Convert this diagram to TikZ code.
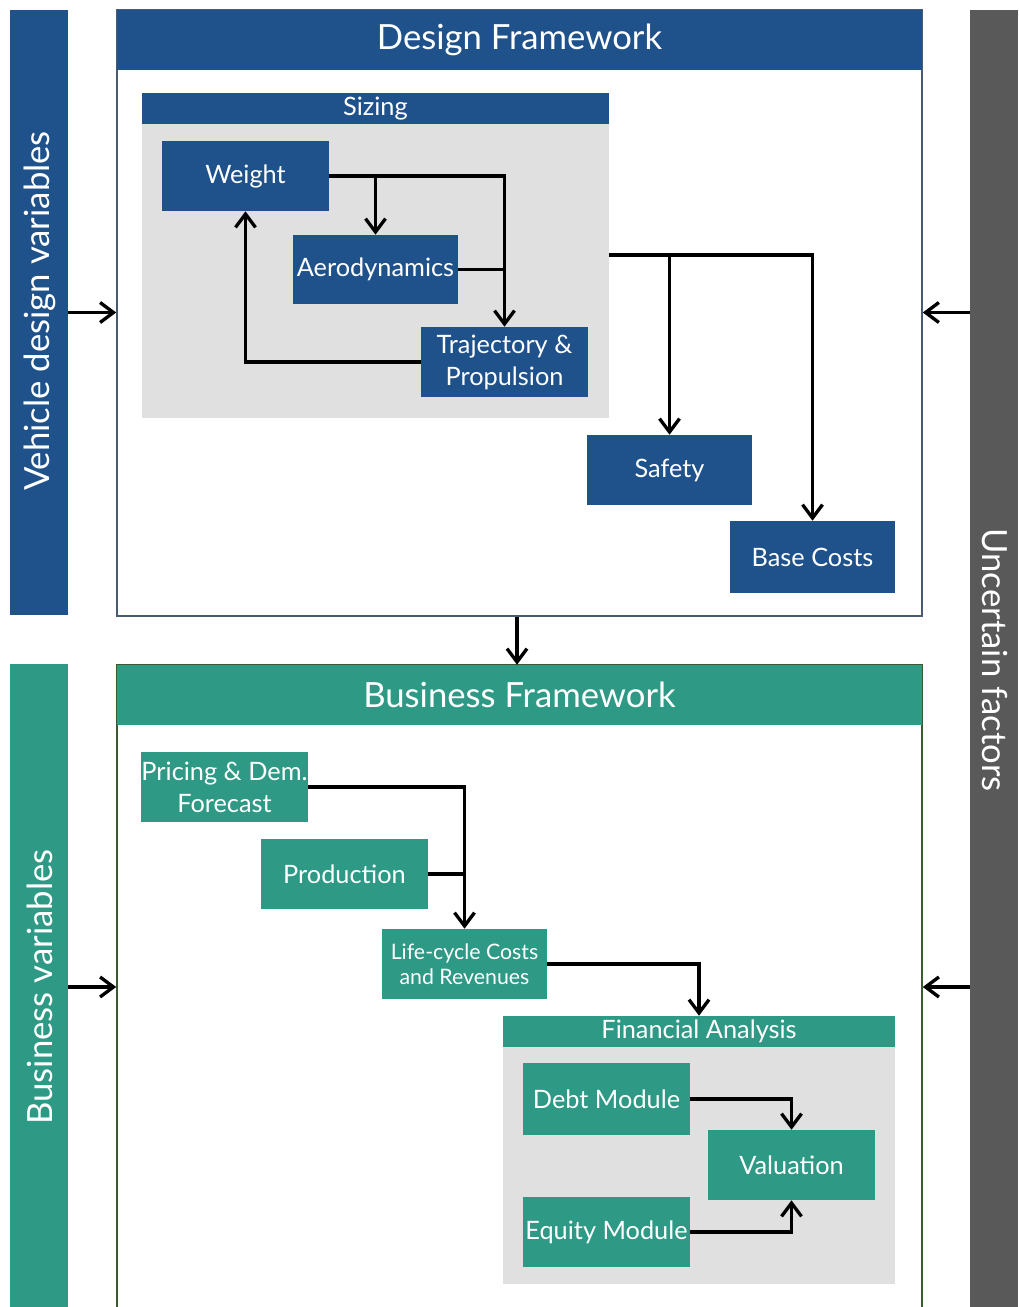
\documentclass[tikz,border=0pt]{standalone}
\usepackage{fontspec}
\setmainfont{Lato}
\usetikzlibrary{arrows.meta,calc}
\definecolor{dblue}{HTML}{1F518B}
\definecolor{teal2}{HTML}{2E9985}
\definecolor{dgray}{HTML}{595959}
\definecolor{lgray}{HTML}{E0E0E0}
\definecolor{slate}{HTML}{4A5A70}
\definecolor{dgreen}{HTML}{3A5A30}
\tikzset{
  box/.style={inner sep=0pt, text=white, align=center, font=\fontsize{19}{22}\selectfont},
  bbox/.style={box, fill=dblue},
  tbox/.style={box, fill=teal2},
  hdr/.style={inner sep=0pt, text=white, font=\fontsize{26}{30}\selectfont},
  sub/.style={inner sep=0pt, text=white, font=\fontsize{19}{22}\selectfont},
  plain/.style={inner sep=0pt},
  side/.style={text=white, inner sep=0pt, font=\fontsize{26}{30}\selectfont},
  arr/.style={draw, line width=2.5pt, -{Straight Barb[length=10pt,width=15pt,line width=2.5pt]}},
  ln/.style={draw, line width=2.5pt}
}
% \rbox{style}{name}{x1}{y1}{x2}{y2}{text}
\newcommand\rbox[7]{\node[#1, minimum width={(#5-#3)*0.75pt}, minimum height={(#6-#4)*0.75pt}] (#2) at ({(#3+#5)/2},{(#4+#6)/2}) {#7};}
\begin{document}
\begin{tikzpicture}[x=0.75pt,y=-0.75pt]
\useasboundingbox (0,0) rectangle (1018,1307);
% side bars
\rbox{plain, fill=dblue}{vbar}{10}{10}{68}{615}{}
\node[side, rotate=90] at (40,311) {Vehicle design variables};
\rbox{plain, fill=teal2}{bbar}{10}{664}{68}{1312}{}
\node[side, rotate=90] at (40,987) {Business variables};
\rbox{plain, fill=dgray}{ubar}{970}{10}{1018}{1312}{}
\node[side, rotate=-90] at (995,660) {Uncertain factors};
% design framework
\rbox{plain, draw=slate, line width=1.2pt, fill=white}{design}{117}{10}{922}{616}{}
\rbox{hdr, fill=dblue}{dhead}{117}{10}{922}{70}{Design Framework}
\rbox{sub, fill=dblue}{sizhead}{142}{93}{609}{124}{Sizing}
\rbox{plain, fill=lgray}{sizbody}{142}{124}{609}{418}{}
\rbox{bbox}{weight}{162}{141}{329}{211}{Weight}
\rbox{bbox}{aero}{293}{235}{458}{304}{Aerodynamics}
\rbox{bbox, font=\fontsize{19}{24}\selectfont}{traj}{421}{327}{588}{397}{Trajectory \&\\Propulsion}
\rbox{bbox}{safety}{587}{435}{752}{505}{Safety}
\rbox{bbox}{base}{730}{521}{895}{593}{Base Costs}
% business framework
\rbox{plain, draw=dgreen, line width=1.2pt, fill=white}{business}{117}{665}{922}{1315}{}
\rbox{hdr, fill=teal2}{bhead}{117}{665}{922}{725}{Business Framework}
\rbox{tbox, font=\fontsize{19}{24}\selectfont}{pricing}{142}{752}{307}{822}{Pricing \& Dem.\\Forecast}
\rbox{tbox}{prod}{261}{839}{428}{909}{Production}
\rbox{tbox, font=\fontsize{16}{19}\selectfont}{lcc}{382}{929}{547}{999}{Life-cycle Costs\\and Revenues}
\rbox{sub, fill=teal2}{fin}{503}{1016}{895}{1047}{Financial Analysis}
\rbox{plain, fill=lgray}{finbody}{503}{1047}{895}{1284}{}
\rbox{tbox}{debt}{523}{1063}{690}{1135}{Debt Module}
\rbox{tbox}{val}{708}{1130}{875}{1200}{Valuation}
\rbox{tbox}{equity}{523}{1197}{690}{1267}{Equity Module}
% connectors: side inputs
\draw[arr] (vbar.east) -- (vbar.east -| design.west);
\draw[arr] (ubar.west |- vbar.east) -- (design.east |- vbar.east);
\draw[arr] (bbar.east |- 0,987) -- (business.west |- 0,987);
\draw[arr] (ubar.west |- 0,987) -- (business.east |- 0,987);
% sizing loop
\draw[arr] (weight.east) -| (aero.north);
\draw[arr] (weight.east) -| (traj.north);
\draw[ln] (aero.east) -- (aero.east -| traj.north);
\draw[arr] (traj.west) -| (weight.south);
% sizing outputs
\coordinate (sz) at ([yshift=12pt]sizbody.east);
\draw[arr] (sz) -| (base.north);
\draw[arr] (sz -| safety.north) -- (safety.north);
% design to business
\draw[arr] (design.south -| 517,0) -- (bhead.north -| 517,0);
% business flow
\draw[arr] (pricing.east) -| (lcc.north);
\draw[ln] (prod.east) -- (prod.east -| lcc.north);
\draw[arr] (lcc.east) -| (fin.north);
\draw[arr] (debt.east) -| (val.north);
\draw[arr] (equity.east) -| (val.south);
\end{tikzpicture}
\end{document}
